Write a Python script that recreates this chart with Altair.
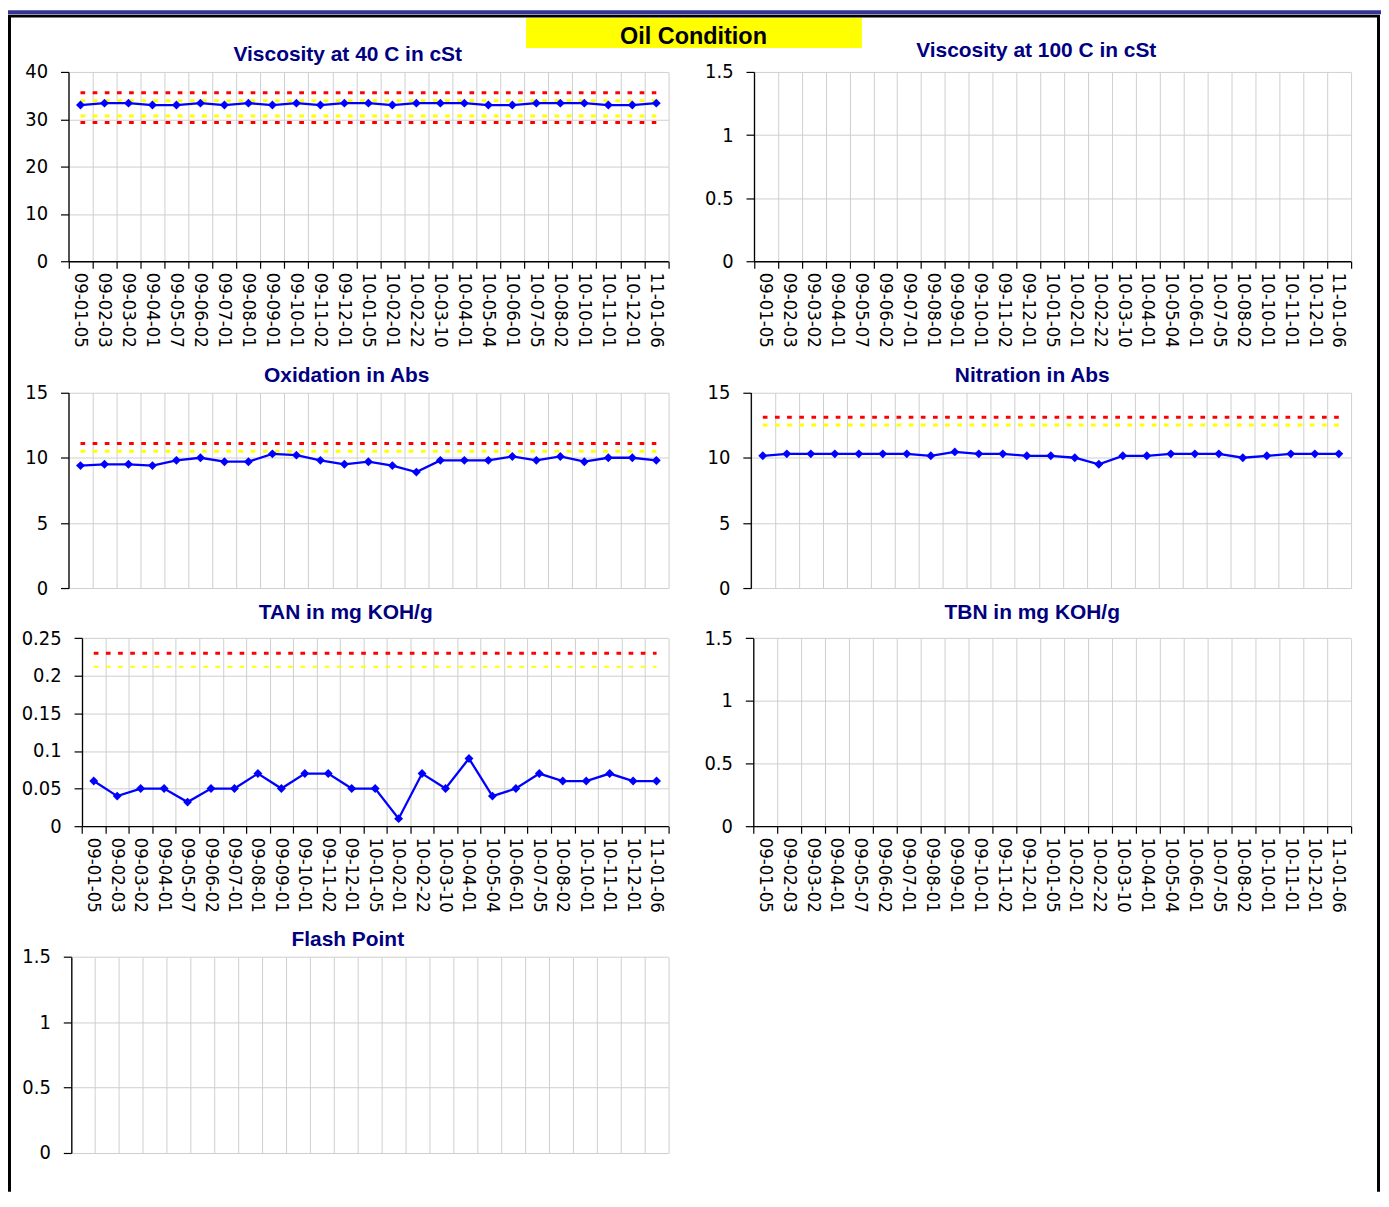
import altair as alt
import pandas as pd

# ---------------- data ----------------
dates = ["09-01-05", "09-02-03", "09-03-02", "09-04-01", "09-05-07", "09-06-02",
         "09-07-01", "09-08-01", "09-09-01", "09-10-01", "09-11-02", "09-12-01",
         "10-01-05", "10-02-01", "10-02-22", "10-03-10", "10-04-01", "10-05-04",
         "10-06-01", "10-07-05", "10-08-02", "10-10-01", "10-11-01", "10-12-01",
         "11-01-06"]

visc40 = [33.0, 33.4, 33.4, 33.0, 33.0, 33.4, 33.0, 33.4, 33.0, 33.4, 33.0, 33.4, 33.4,
          33.0, 33.4, 33.4, 33.4, 33.0, 33.0, 33.4, 33.4, 33.4, 33.0, 33.0, 33.4]
oxidation = [9.4, 9.5, 9.5, 9.4, 9.8, 10.0, 9.7, 9.7, 10.3, 10.2, 9.8, 9.5, 9.7,
             9.4, 8.9, 9.8, 9.8, 9.8, 10.1, 9.8, 10.1, 9.7, 10.0, 10.0, 9.8]
nitration = [10.15, 10.3, 10.3, 10.3, 10.3, 10.3, 10.3, 10.15, 10.45, 10.3, 10.3, 10.15, 10.15,
             10.0, 9.5, 10.15, 10.15, 10.3, 10.3, 10.3, 10.0, 10.15, 10.3, 10.3, 10.3]
tan = [0.06, 0.04, 0.05, 0.05, 0.032, 0.05, 0.05, 0.07, 0.05, 0.07, 0.07, 0.05, 0.05,
       0.01, 0.07, 0.05, 0.09, 0.04, 0.05, 0.07, 0.06, 0.06, 0.07, 0.06, 0.06]

visc40_red = [35.6, 29.3]
visc40_yellow = [33.9, 30.7]
ox_red = [11.1]
ox_yellow = [10.5]
nit_red = [13.1]
nit_yellow = [12.5]
tan_red = [0.23]
tan_yellow = [0.212]

titles = ["Viscosity at 40 C in cSt", "Viscosity at 100 C in cSt", "Oxidation in Abs",
          "Nitration in Abs", "TAN in mg KOH/g", "TBN in mg KOH/g", "Flash Point"]
header = "Oil Condition"

ticks_40 = [0, 10, 20, 30, 40]
ticks_15 = [0, 5, 10, 15]
ticks_1p5 = [0, 0.5, 1, 1.5]
ticks_tan = [0, 0.05, 0.1, 0.15, 0.2, 0.25]

# ---------------- layout / style ----------------
W, H = 1378, 1186
NARROW = "DejaVu Sans Condensed, DejaVu Sans, sans-serif"
BOLD = "Liberation Sans, Arial, sans-serif"
GRID = "#cfcfcf"
DASH = [4.7, 7.5]

panels = [
    dict(title=0, x0=60.7, x1=662.7, yt=62, yb=252, ticks=ticks_40, xlabels=True, tx=341, ty=51,
         values=visc40, red=visc40_red, yellow=visc40_yellow, yw=3),
    dict(title=1, x0=748.7, x1=1347.7, yt=62, yb=252, ticks=ticks_1p5, xlabels=True, tx=1032, ty=47,
         values=None),
    dict(title=2, x0=60.7, x1=662.7, yt=383.7, yb=580.3, ticks=ticks_15, xlabels=False, tx=340, ty=373,
         values=oxidation, red=ox_red, yellow=ox_yellow, yw=3),
    dict(title=3, x0=745.5, x1=1347.7, yt=383.7, yb=580.3, ticks=ticks_15, xlabels=False, tx=1028, ty=373,
         values=nitration, red=nit_red, yellow=nit_yellow, yw=3),
    dict(title=4, x0=74.3, x1=662.7, yt=630.3, yb=819, ticks=ticks_tan, xlabels=True, tx=339, ty=611,
         values=tan, red=tan_red, yellow=tan_yellow, yw=2),
    dict(title=5, x0=748, x1=1347.7, yt=630.3, yb=819, ticks=ticks_1p5, xlabels=True, tx=1028, ty=611,
         values=None),
    dict(title=6, x0=63.5, x1=662.7, yt=950.3, yb=1147, ticks=ticks_1p5, xlabels=False, tx=341, ty=939,
         values=None),
]

base_df = pd.DataFrame({"date": dates, "v": [0] * len(dates)})
one = pd.DataFrame({"k": [0]})

layers = []


def xs(p):
    return alt.Scale(type="band", domain=dates, range=[p["x0"], p["x1"]],
                     paddingInner=0, paddingOuter=0)


def ys(p):
    return alt.Scale(domain=[0, p["ticks"][-1]], range=[p["yb"], p["yt"]], nice=False, zero=False)


# frame and header
layers.append(alt.Chart(one).mark_rect(color="#333399").encode(
    x=alt.value(0), x2=alt.value(W), y=alt.value(0), y2=alt.value(4)))
layers.append(alt.Chart(one).mark_rule(color="black", strokeWidth=3).encode(
    x=alt.value(0), x2=alt.value(1377), y=alt.value(6)))
layers.append(alt.Chart(one).mark_rule(color="black", strokeWidth=3).encode(
    x=alt.value(1.5), y=alt.value(6), y2=alt.value(H)))
layers.append(alt.Chart(one).mark_rule(color="black", strokeWidth=3).encode(
    x=alt.value(1375.5), y=alt.value(6), y2=alt.value(H)))
layers.append(alt.Chart(one).mark_rect(color="#FFFF00").encode(
    x=alt.value(520), x2=alt.value(857), y=alt.value(8), y2=alt.value(38)))
layers.append(alt.Chart(pd.DataFrame({"t": [header]})).mark_text(
    font=BOLD, fontWeight="bold", fontSize=23.5, color="black", align="center", baseline="alphabetic"
).encode(text="t:N", x=alt.value(688), y=alt.value(33.5)))

for p in panels:
    # grid + y axis
    layers.append(alt.Chart(base_df).mark_point(opacity=0).encode(
        x=alt.X("date:N", scale=xs(p), axis=alt.Axis(
            orient="top", offset=0, grid=True, labels=False, ticks=False, domain=False,
            tickBand="extent", gridColor=GRID, gridWidth=1, title=None)),
        y=alt.Y("v:Q", scale=ys(p), axis=alt.Axis(
            orient="left", offset=-p["x0"], values=p["ticks"], labelExpr="'' + datum.value",
            grid=True, gridColor=GRID, gridWidth=1, domain=True, domainColor="black",
            domainWidth=1.3, ticks=True, tickColor="black", tickSize=8, tickWidth=1.2,
            labelPadding=13, labelFont=NARROW, labelFontSize=20, labelColor="black",
            title=None)),
    ))
    if p["xlabels"]:
        layers.append(alt.Chart(base_df).mark_point(opacity=0).encode(
            x=alt.X("date:N", scale=xs(p), axis=alt.Axis(
                orient="bottom", offset=p["yb"] - H, grid=False, tickBand="extent",
                labelAngle=90, labelAlign="left", labelBaseline="middle", labelPadding=4,
                tickSize=7, tickColor="black", tickWidth=1.2, domainColor="black",
                domainWidth=1.3, labelFont=NARROW, labelFontSize=18.5, labelColor="black",
                labelOverlap=False, title=None)),
            y=alt.Y("v:Q", scale=ys(p), axis=None),
        ))
    if p["values"] is not None:
        for lims, col, w in ((p["red"], "#FF0000", 3), (p["yellow"], "#FFFF00", p["yw"])):
            lim_df = pd.DataFrame([{"date": d, "lim": i, "val": v}
                                   for i, v in enumerate(lims) for d in dates])
            layers.append(alt.Chart(lim_df).mark_line(
                color=col, strokeWidth=w, strokeDash=DASH).encode(
                x=alt.X("date:N", scale=xs(p), axis=None),
                y=alt.Y("val:Q", scale=ys(p), axis=None),
                detail="lim:N"))
        df = pd.DataFrame({"date": dates, "val": p["values"]})
        layers.append(alt.Chart(df).mark_line(color="#0000FF", strokeWidth=2.3).encode(
            x=alt.X("date:N", scale=xs(p), axis=None),
            y=alt.Y("val:Q", scale=ys(p), axis=None)))
        layers.append(alt.Chart(df).mark_point(
            shape="diamond", filled=True, size=80, color="#0000FF", opacity=1).encode(
            x=alt.X("date:N", scale=xs(p), axis=None),
            y=alt.Y("val:Q", scale=ys(p), axis=None)))
    layers.append(alt.Chart(pd.DataFrame({"t": [titles[p["title"]]]})).mark_text(
        font=BOLD, fontWeight="bold", fontSize=21, color="#000080", align="center",
        baseline="alphabetic").encode(text="t:N", x=alt.value(p["tx"]), y=alt.value(p["ty"])))

chart = alt.layer(*layers).resolve_scale(
    x="independent", y="independent"
).properties(
    width=W, height=H, padding=0, autosize=alt.AutoSizeParams(type="none")
).configure_view(strokeWidth=0)

chart.save("out.html", embed_options={"renderer": "svg", "actions": False})
